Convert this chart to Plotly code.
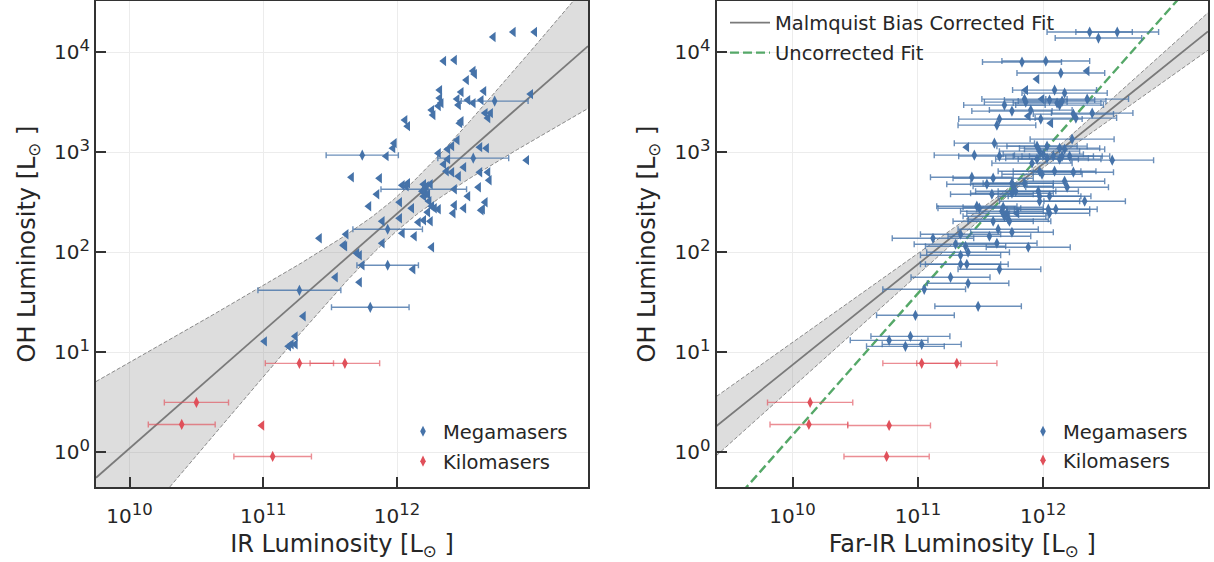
import numpy as np
import plotly.graph_objects as go

# ---------------- DATA (log10 values) ----------------
# Left panel: IR luminosity vs OH luminosity
# Megamasers, upper limits in IR (left-pointing triangles)
left_lim_logLIR = [12.72, 12.87, 13.03, 12.35, 12.43, 12.57, 12.58, 12.52, 12.32, 12.48,
                   12.65, 12.32, 12.33, 12.45, 12.53, 12.57, 12.63, 13.00, 12.46, 12.26,
                   12.31, 12.27, 12.66, 12.70, 12.68, 12.48, 12.47, 12.06, 12.08, 12.45,
                   12.41, 12.38, 12.62, 12.67, 11.98, 11.97, 11.92, 12.31, 12.38, 12.35,
                   12.97, 12.50, 12.37, 12.41, 12.62, 12.68, 12.46, 12.69, 11.66, 11.87,
                   12.04, 12.08, 12.07, 12.20, 12.25, 12.22, 12.19, 12.21, 12.20, 12.43,
                   11.85, 12.23, 12.53, 12.61, 12.24, 12.02, 12.66, 11.79, 12.11, 12.26,
                   12.31, 12.28, 12.43, 12.50, 12.63, 12.64, 12.42, 12.23, 12.02, 11.89,
                   12.16, 12.20, 12.25, 11.62, 12.04, 12.13, 11.42, 11.60, 11.61, 11.89,
                   12.26, 11.70, 11.72, 11.74, 12.12, 11.54, 11.72, 11.30, 11.01, 11.24,
                   11.21, 11.24, 11.19]
left_lim_logLOH = [4.15, 4.20, 4.20, 3.91, 3.92, 3.81, 3.78, 3.72, 3.62, 3.60,
                   3.61, 3.54, 3.49, 3.53, 3.52, 3.49, 3.52, 3.58, 3.47, 3.42,
                   3.46, 3.37, 3.39, 3.39, 3.34, 3.31, 3.29, 3.32, 3.26, 3.12,
                   3.06, 3.03, 3.05, 3.04, 3.09, 3.04, 2.96, 2.99, 2.93, 2.88,
                   2.92, 2.85, 2.81, 2.80, 2.80, 2.80, 2.76, 2.72, 2.75, 2.74,
                   2.67, 2.69, 2.66, 2.68, 2.68, 2.66, 2.61, 2.59, 2.56, 2.63,
                   2.58, 2.58, 2.56, 2.65, 2.51, 2.50, 2.50, 2.46, 2.44, 2.46,
                   2.43, 2.44, 2.47, 2.44, 2.42, 2.43, 2.39, 2.40, 2.34, 2.31,
                   2.30, 2.32, 2.31, 2.18, 2.19, 2.16, 2.14, 2.07, 2.06, 2.09,
                   2.05, 1.99, 1.97, 1.87, 1.83, 1.75, 1.70, 1.36, 1.11, 1.16,
                   1.08, 1.08, 1.06]
# Megamasers with measured IR (diamonds, error bar half-width in dex)
left_mega_logLIR = [12.73, 11.74, 12.57, 12.20, 11.93, 11.93, 11.27, 11.80]
left_mega_logLOH = [3.51, 2.97, 2.94, 2.63, 2.23, 1.87, 1.62, 1.45]
left_mega_dex = [0.25, 0.27, 0.265, 0.32, 0.26, 0.23, 0.31, 0.29]
# Kilomasers
left_kilo_logLIR = [11.27, 11.61, 10.50, 10.39, 11.07]
left_kilo_logLOH = [0.89, 0.89, 0.50, 0.28, -0.04]
left_kilo_dex = [0.255, 0.26, 0.24, 0.25, 0.29]
left_kilo_lim_logLIR = [10.99]
left_kilo_lim_logLOH = [0.27]

# Right panel: Far-IR luminosity vs OH luminosity
right_mega_logLFIR = [12.37, 12.59, 12.44, 11.83, 12.02, 12.14, 12.09, 12.17, 12.35, 11.85,
                      11.86, 12.05, 12.11, 12.15, 12.13, 11.69, 11.75, 11.90, 11.98, 12.24,
                      12.26, 12.39, 11.65, 11.63, 11.61, 11.45, 11.65, 12.23, 11.95, 11.97,
                      12.00, 12.03, 12.13, 12.17, 12.15, 12.55, 11.91, 11.95, 12.03, 12.08,
                      12.13, 12.21, 11.97, 11.99, 12.09, 12.24, 11.43, 11.60, 11.55, 11.75,
                      11.76, 11.75, 11.78, 11.85, 11.96, 11.97, 11.97, 12.05, 12.17, 12.19,
                      12.33, 11.59, 11.47, 11.49, 11.68, 11.67, 11.71, 11.69, 11.60, 11.73,
                      11.72, 12.04, 12.05, 12.10, 11.64, 11.75, 11.12, 11.34, 11.57, 11.63,
                      11.30, 11.38, 11.88, 11.34, 11.40, 11.34, 11.39, 11.65, 11.26, 11.40,
                      11.05, 11.48, 10.98, 10.94, 10.77, 11.03, 10.90]
right_mega_logLOH = [4.20, 4.20, 4.14, 3.90, 3.91, 3.79, 3.62, 3.59, 3.53, 3.53,
                     3.50, 3.52, 3.49, 3.51, 3.47, 3.47, 3.41, 3.42, 3.33, 3.38,
                     3.34, 3.39, 3.33, 3.27, 3.09, 2.97, 2.96, 3.13, 3.06, 3.01,
                     2.98, 3.06, 3.04, 3.03, 2.96, 2.92, 2.89, 2.93, 2.94, 2.96,
                     2.93, 2.96, 2.81, 2.78, 2.81, 2.80, 2.75, 2.74, 2.68, 2.69,
                     2.66, 2.59, 2.61, 2.69, 2.61, 2.56, 2.51, 2.56, 2.71, 2.65,
                     2.51, 2.58, 2.46, 2.44, 2.45, 2.41, 2.39, 2.36, 2.31, 2.31,
                     2.33, 2.43, 2.39, 2.43, 2.23, 2.20, 2.14, 2.18, 2.16, 2.09,
                     2.08, 2.06, 2.05, 1.97, 2.00, 1.88, 1.88, 1.83, 1.75, 1.69,
                     1.63, 1.46, 1.37, 1.16, 1.12, 1.08, 1.06]
right_mega_dex = [0.34, 0.33, 0.345, 0.315, 0.35, 0.35, 0.335, 0.34, 0.33, 0.34,
                  0.33, 0.36, 0.35, 0.35, 0.35, 0.325, 0.32, 0.33, 0.33, 0.32,
                  0.325, 0.325, 0.325, 0.31, 0.32, 0.32, 0.325, 0.335, 0.32, 0.32,
                  0.32, 0.32, 0.32, 0.32, 0.32, 0.33, 0.32, 0.33, 0.33, 0.32,
                  0.33, 0.32, 0.33, 0.32, 0.33, 0.32, 0.33, 0.32, 0.32, 0.33,
                  0.32, 0.33, 0.32, 0.33, 0.32, 0.33, 0.32, 0.33, 0.32, 0.33,
                  0.325, 0.33, 0.32, 0.33, 0.32, 0.33, 0.32, 0.33, 0.32, 0.33,
                  0.32, 0.33, 0.32, 0.33, 0.32, 0.33, 0.325, 0.32, 0.33, 0.32,
                  0.33, 0.32, 0.335, 0.32, 0.33, 0.32, 0.33, 0.33, 0.315, 0.325,
                  0.33, 0.345, 0.31, 0.315, 0.31, 0.315, 0.31]
right_lim_logLFIR = [12.35, 11.95, 11.86, 11.99, 11.88, 12.06, 11.39, 11.79]
right_lim_logLOH = [3.81, 3.73, 3.62, 3.53, 3.36, 3.29, 3.05, 2.39]
right_kilo_logLFIR = [11.03, 11.31, 10.14, 10.13, 10.77, 10.75]
right_kilo_logLOH = [0.89, 0.89, 0.50, 0.28, 0.27, -0.04]
right_kilo_dex = [0.31, 0.32, 0.34, 0.31, 0.33, 0.34]

# Fits: log L_OH = c + m (log L - 12); band half width sqrt(a^2 + (b (log L - x0))^2)
left_fit = dict(m=1.172, c=2.386, a=0.17, b=0.42, x0=12.0)
right_fit = dict(m=1.005, c=2.885, a=0.03, b=0.122, x0=11.8)
right_uncorr = dict(m=1.415, c=3.004)

x_ticks = [10, 11, 12]
y_ticks = [0, 1, 2, 3, 4]
left_xrange = [9.749, 13.428]
right_xrange = [9.393, 13.314]
yrange = [-0.345, 4.51]

# ---------------- STYLE ----------------
BLUE = "#4673a9"
BLUE_ERR = "rgba(70,115,169,0.8)"
RED = "#e0505a"
RED_ERR = "rgba(224,80,90,0.65)"
GREEN = "#55a868"
GRAY = "#7a7a7a"
FONT = "DejaVu Sans"
TXT = "#262626"
FRAME = "#333333"

fig = go.Figure()


def p(v):
    return np.power(10.0, np.asarray(v, dtype=float))


def err(logv, dex):
    logv = np.asarray(logv, float)
    dex = np.asarray(dex, float)
    return dict(type="data", symmetric=False,
                array=p(logv + dex) - p(logv), arrayminus=p(logv) - p(logv - dex))


def add_fit(fit, xr, xa, ya):
    xs = np.linspace(xr[0], xr[1], 300)
    yc = fit["c"] + fit["m"] * (xs - 12.0)
    h = np.sqrt(fit["a"] ** 2 + (fit["b"] * (xs - fit["x0"])) ** 2)
    fig.add_trace(go.Scatter(x=p(xs), y=p(yc - h), mode="lines", xaxis=xa, yaxis=ya,
                             line=dict(color="#8a8a8a", width=1, dash="4px,2px"),
                             showlegend=False, hoverinfo="skip"))
    fig.add_trace(go.Scatter(x=p(xs), y=p(yc + h), mode="lines", xaxis=xa, yaxis=ya,
                             fill="tonexty", fillcolor="rgba(128,128,128,0.27)",
                             line=dict(color="#8a8a8a", width=1, dash="4px,2px"),
                             showlegend=False, hoverinfo="skip"))
    fig.add_trace(go.Scatter(x=p(xs), y=p(yc), mode="lines", xaxis=xa, yaxis=ya,
                             line=dict(color=GRAY, width=1.8),
                             showlegend=False, hoverinfo="skip"))


DSIZE = 8
TSIZE = 9

# Left panel
add_fit(left_fit, left_xrange, "x", "y")
fig.add_trace(go.Scatter(x=p(left_lim_logLIR), y=p(left_lim_logLOH), mode="markers",
                         marker=dict(symbol="triangle-left", size=TSIZE, color=BLUE),
                         showlegend=False, xaxis="x", yaxis="y"))
fig.add_trace(go.Scatter(x=p(left_mega_logLIR), y=p(left_mega_logLOH), mode="markers",
                         marker=dict(symbol="diamond-tall", size=DSIZE, color=BLUE),
                         error_x=dict(**err(left_mega_logLIR, left_mega_dex), color=BLUE_ERR,
                                      thickness=1.4, width=3),
                         showlegend=False, xaxis="x", yaxis="y"))
fig.add_trace(go.Scatter(x=p(left_kilo_logLIR), y=p(left_kilo_logLOH), mode="markers",
                         marker=dict(symbol="diamond-tall", size=DSIZE, color=RED),
                         error_x=dict(**err(left_kilo_logLIR, left_kilo_dex), color=RED_ERR,
                                      thickness=1.4, width=3),
                         showlegend=False, xaxis="x", yaxis="y"))
fig.add_trace(go.Scatter(x=p(left_kilo_lim_logLIR), y=p(left_kilo_lim_logLOH), mode="markers",
                         marker=dict(symbol="triangle-left", size=TSIZE, color=RED),
                         showlegend=False, xaxis="x", yaxis="y"))

# Right panel
add_fit(right_fit, right_xrange, "x2", "y2")
xs_u = np.linspace(right_xrange[0], right_xrange[1], 50)
fig.add_trace(go.Scatter(x=p(xs_u), y=p(right_uncorr["c"] + right_uncorr["m"] * (xs_u - 12.0)),
                         mode="lines", line=dict(color=GREEN, width=2.4, dash="9px,4px"),
                         showlegend=False, xaxis="x2", yaxis="y2", hoverinfo="skip"))
fig.add_trace(go.Scatter(x=p(right_mega_logLFIR), y=p(right_mega_logLOH), mode="markers",
                         marker=dict(symbol="diamond-tall", size=DSIZE, color=BLUE),
                         error_x=dict(**err(right_mega_logLFIR, right_mega_dex), color=BLUE_ERR,
                                      thickness=1.4, width=3),
                         showlegend=False, xaxis="x2", yaxis="y2"))
fig.add_trace(go.Scatter(x=p(right_lim_logLFIR), y=p(right_lim_logLOH), mode="markers",
                         marker=dict(symbol="triangle-left", size=TSIZE, color=BLUE),
                         showlegend=False, xaxis="x2", yaxis="y2"))
fig.add_trace(go.Scatter(x=p(right_kilo_logLFIR), y=p(right_kilo_logLOH), mode="markers",
                         marker=dict(symbol="diamond-tall", size=DSIZE, color=RED),
                         error_x=dict(**err(right_kilo_logLFIR, right_kilo_dex), color=RED_ERR,
                                      thickness=1.4, width=3),
                         showlegend=False, xaxis="x2", yaxis="y2"))


# Legend entries (one legend per entry for exact placement)
def leg_marker(name, color, legend, xa, ya):
    fig.add_trace(go.Scatter(x=[None], y=[None], mode="markers", name=name,
                             marker=dict(symbol="diamond-tall", size=8, color=color),
                             legend=legend, xaxis=xa, yaxis=ya))


def leg_line(name, line, legend):
    fig.add_trace(go.Scatter(x=[None], y=[None], mode="lines", name=name, line=line,
                             legend=legend, xaxis="x2", yaxis="y2"))


leg_marker("Megamasers", BLUE, "legend", "x", "y")
leg_marker("Kilomasers", RED, "legend2", "x", "y")
leg_line("Malmquist Bias Corrected Fit", dict(color=GRAY, width=1.8), "legend3")
leg_line("Uncorrected Fit", dict(color=GREEN, width=2.4, dash="9px,4px"), "legend4")
leg_marker("Megamasers", BLUE, "legend5", "x2", "y2")
leg_marker("Kilomasers", RED, "legend6", "x2", "y2")

L, R, T, B = 96, 6, 1, 74.5
W, H = 1214, 562
PW, PH = W - L - R, H - T - B


def px2x(px):
    return (px - L) / PW


def py2y(py):
    return (H - B - py) / PH


def legend_cfg(px, py, itemwidth=30):
    return dict(x=px2x(px), y=py2y(py), xanchor="left", yanchor="middle",
                bgcolor="rgba(0,0,0,0)", borderwidth=0, itemwidth=itemwidth,
                font=dict(family=FONT, size=19.5, color=TXT), itemclick=False)


def tick_text(vals):
    return ["10<sup><span style='font-size:16.5px'>%d</span></sup>" % v for v in vals]


axis_common = dict(type="log", showline=True, linecolor=FRAME, linewidth=2, mirror=True,
                   ticks="inside", ticklen=10, tickwidth=2, tickcolor=FRAME,
                   showgrid=True, gridcolor="#ececec", gridwidth=1, zeroline=False,
                   tickfont=dict(family=FONT, size=20, color=TXT), automargin=False)

TITLE_FONT = dict(family=FONT, size=24, color=TXT)
XLAB = dict(ticklabelstandoff=10)

fig.update_layout(
    width=W, height=H, margin=dict(l=L, r=R, t=T, b=B),
    paper_bgcolor="white", plot_bgcolor="white",
    font=dict(family=FONT, color=TXT),
    xaxis=dict(**axis_common, **XLAB, domain=[0, px2x(588)], range=left_xrange,
               tickvals=p(x_ticks), ticktext=tick_text(x_ticks), anchor="y",
               title=dict(text="IR Luminosity [L<sub>⊙</sub> ]", standoff=8, font=TITLE_FONT)),
    yaxis=dict(**axis_common, domain=[0, 1], range=yrange, anchor="x",
               tickvals=p(y_ticks), ticktext=tick_text(y_ticks),
               title=dict(text="OH Luminosity [L<sub>⊙</sub> ]", standoff=12, font=TITLE_FONT)),
    xaxis2=dict(**axis_common, **XLAB, domain=[px2x(716.5), 1], range=right_xrange,
                tickvals=p(x_ticks), ticktext=tick_text(x_ticks), anchor="y2",
                title=dict(text="Far-IR Luminosity [L<sub>⊙</sub> ]", standoff=8, font=TITLE_FONT)),
    yaxis2=dict(**axis_common, domain=[0, 1], range=yrange, anchor="x2",
                tickvals=p(y_ticks), ticktext=tick_text(y_ticks),
                title=dict(text="OH Luminosity [L<sub>⊙</sub> ]", standoff=12, font=TITLE_FONT)),
    legend=legend_cfg(403, 432),
    legend2=legend_cfg(403, 462),
    legend3=legend_cfg(725, 23, itemwidth=40),
    legend4=legend_cfg(725, 53, itemwidth=40),
    legend5=legend_cfg(1023, 432),
    legend6=legend_cfg(1023, 461),
)

fig.write_html("out.html", config={"displayModeBar": False},
               post_script="document.body.style.margin='0px';")
